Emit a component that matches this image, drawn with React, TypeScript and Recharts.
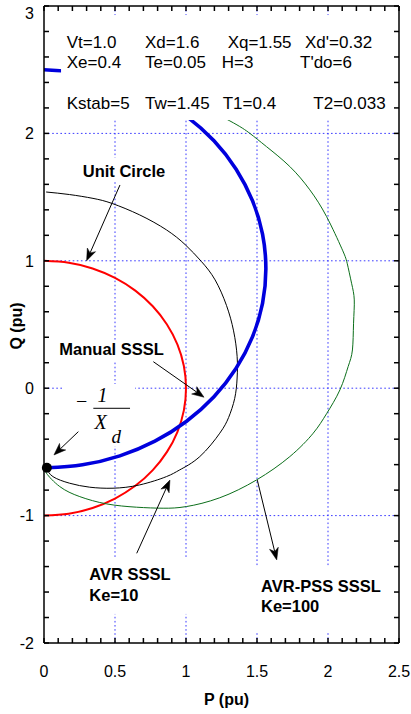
import React from 'react';
import {
  LineChart,
  Line,
  XAxis,
  YAxis,
  ReferenceLine,
  ReferenceArea,
  ReferenceDot,
} from 'recharts';

// ---- axis ticks ----
const xTicks = [0, 0.1, 0.2, 0.3, 0.4, 0.5, 0.6, 0.7, 0.8, 0.9, 1, 1.1, 1.2, 1.3, 1.4, 1.5, 1.6, 1.7, 1.8, 1.9, 2, 2.1, 2.2, 2.3, 2.4, 2.5];
const xLabels = [0, 0.5, 1, 1.5, 2, 2.5];
const yTicks = [-2, -1.8, -1.6, -1.4, -1.2, -1, -0.8, -0.6, -0.4, -0.2, 0, 0.2, 0.4, 0.6, 0.8, 1, 1.2, 1.4, 1.6, 1.8, 2, 2.2, 2.4, 2.6, 2.8, 3];
const yLabels = [-2, -1, 0, 1, 2, 3];
const gridP = [0.5, 1, 1.5, 2];
const gridQ = [-1, 0, 1, 2];

// ---- curves (P, Q in pu) ----
const unitCircle = [
  { p: 0, q: 1 }, { p: 0.174, q: 0.985 }, { p: 0.342, q: 0.94 }, { p: 0.5, q: 0.866 },
  { p: 0.643, q: 0.766 }, { p: 0.766, q: 0.643 }, { p: 0.866, q: 0.5 }, { p: 0.94, q: 0.342 },
  { p: 0.985, q: 0.174 }, { p: 1, q: 0 }, { p: 0.985, q: -0.174 }, { p: 0.94, q: -0.342 },
  { p: 0.866, q: -0.5 }, { p: 0.766, q: -0.643 }, { p: 0.643, q: -0.766 }, { p: 0.5, q: -0.866 },
  { p: 0.342, q: -0.94 }, { p: 0.174, q: -0.985 }, { p: 0, q: -1 },
];

const manualSSSL = [
  { p: 0.02, q: -0.625 }, { p: 0.271, q: -0.601 }, { p: 0.534, q: -0.531 }, { p: 0.781, q: -0.416 },
  { p: 1.004, q: -0.259 }, { p: 1.197, q: -0.067 }, { p: 1.353, q: 0.156 }, { p: 1.468, q: 0.403 },
  { p: 1.539, q: 0.666 }, { p: 1.5625, q: 0.9375 }, { p: 1.539, q: 1.209 }, { p: 1.468, q: 1.472 },
  { p: 1.353, q: 1.719 }, { p: 1.197, q: 1.942 }, { p: 1.004, q: 2.134 }, { p: 0.781, q: 2.291 },
  { p: 0.534, q: 2.406 }, { p: 0.271, q: 2.476 }, { p: 0, q: 2.5 },
];

const avrSSSL = [
  { p: 0.015, q: 1.54 }, { p: 0.18, q: 1.52 }, { p: 0.345, q: 1.49 }, { p: 0.48, q: 1.45 },
  { p: 0.674, q: 1.36 }, { p: 0.862, q: 1.243 }, { p: 0.996, q: 1.125 }, { p: 1.109, q: 0.994 },
  { p: 1.205, q: 0.85 }, { p: 1.285, q: 0.65 }, { p: 1.335, q: 0.45 }, { p: 1.36, q: 0.25 },
  { p: 1.36, q: 0.08 }, { p: 1.343, q: -0.08 }, { p: 1.3, q: -0.23 }, { p: 1.238, q: -0.353 },
  { p: 1.097, q: -0.537 }, { p: 0.956, q: -0.641 }, { p: 0.862, q: -0.694 }, { p: 0.674, q: -0.759 },
  { p: 0.486, q: -0.785 }, { p: 0.322, q: -0.777 }, { p: 0.181, q: -0.746 }, { p: 0.063, q: -0.694 },
  { p: 0.02, q: -0.63 },
];

const avrPssSSSL = [
  { p: 0, q: 2.5 }, { p: 0.12, q: 2.497 }, { p: 0.4, q: 2.47 }, { p: 0.7, q: 2.4 },
  { p: 1.0, q: 2.27 }, { p: 1.309, q: 2.098 }, { p: 1.45, q: 2.0 }, { p: 1.567, q: 1.896 },
  { p: 1.731, q: 1.74 }, { p: 1.872, q: 1.557 }, { p: 1.99, q: 1.347 }, { p: 2.096, q: 1.099 },
  { p: 2.135, q: 0.981 }, { p: 2.166, q: 0.824 }, { p: 2.185, q: 0.693 }, { p: 2.18, q: 0.51 },
  { p: 2.172, q: 0.3 }, { p: 2.142, q: 0.17 }, { p: 2.084, q: -0.013 }, { p: 1.99, q: -0.2 },
  { p: 1.896, q: -0.353 }, { p: 1.731, q: -0.537 }, { p: 1.497, q: -0.72 }, { p: 1.238, q: -0.86 },
  { p: 1.003, q: -0.929 }, { p: 0.839, q: -0.942 }, { p: 0.651, q: -0.934 }, { p: 0.44, q: -0.908 },
  { p: 0.252, q: -0.851 }, { p: 0.111, q: -0.772 }, { p: 0.017, q: -0.667 }, { p: 0.02, q: -0.64 },
];

// ---- machine / controller parameters ----
const paramRows = [
  ['Vt=1.0', 'Xd=1.6', 'Xq=1.55', "Xd'=0.32"],
  ['Xe=0.4', 'Te=0.05', 'H=3', "T'do=6"],
  ['Kstab=5', 'Tw=1.45', 'T1=0.4', 'T2=0.033'],
];

const SANS = '"Liberation Sans", Arial, Helvetica, sans-serif';
const SERIF = '"Liberation Serif", "Times New Roman", Times, serif';
const GRID = '#3a3aff';
const FRAME = '#000';

const inList = (v: number, list: number[]) => list.some((t) => Math.abs(t - v) < 1e-9);

// tick labels only on the major values; the short inward tick marks come from tickLine
const BottomTick = (props: any) => {
  const { x, y, payload } = props;
  const v = payload.value as number;
  if (!inList(v, xLabels)) return <g />;
  return (
    <text x={x} y={y} textAnchor="middle" fontSize={16} fontFamily={SANS} fill="#000">
      {String(v)}
    </text>
  );
};

const LeftTick = (props: any) => {
  const { x, y, payload } = props;
  const v = payload.value as number;
  if (!inList(v, yLabels)) return <g />;
  const ly = Math.max(y, 12.7);
  return (
    <text x={x} y={ly + 5.8} textAnchor="end" fontSize={16} fontFamily={SANS} fill="#000">
      {String(v)}
    </text>
  );
};

// top and right frame edges carry tick marks but no labels
const NoLabel = () => <g />;

// straight arrow with a barbed head at the end point
const Arrow = (props: any) => {
  const { x1, y1, x2, y2 } = props;
  const dx = x2 - x1;
  const dy = y2 - y1;
  const len = Math.sqrt(dx * dx + dy * dy) || 1;
  const ux = dx / len;
  const uy = dy / len;
  const L = 12;
  const W = 4.5;
  const bx = x2 - ux * L;
  const by = y2 - uy * L;
  const nx = x2 - ux * L * 0.72;
  const ny = y2 - uy * L * 0.72;
  const head = `M${x2},${y2} L${bx - uy * W},${by + ux * W} L${nx},${ny} L${bx + uy * W},${by - ux * W} Z`;
  return (
    <g>
      <line x1={x1} y1={y1} x2={nx} y2={ny} stroke="#000" strokeWidth={1} />
      <path d={head} fill="#000" stroke="#000" strokeWidth={0.5} />
    </g>
  );
};

const ParamBox = (props: any) => {
  const { x, y, width, height } = props;
  const colX = [
    [5.7, 84, 166.7, 244],
    [5.7, 84, 160.7, 239],
    [5.7, 84, 161.7, 252.3],
  ];
  const rowY = [33.3, 53.3, 94.3];
  return (
    <g>
      <rect x={x} y={y} width={width} height={height} fill="#fff" />
      {paramRows.map((row, i) =>
        row.map((s, j) => (
          <text key={`${i}-${j}`} x={x + colX[i][j]} y={y + rowY[i]} fontSize={17} fontFamily={SANS} fill="#000">
            {s}
          </text>
        ))
      )}
    </g>
  );
};

const labelBox = (lines: string[], dx: number, baselines: number[]) => (props: any) => {
  const { x, y, width, height } = props;
  return (
    <g>
      <rect x={x} y={y} width={width} height={height} fill="#fff" />
      {lines.map((s, i) => (
        <text key={i} x={x + dx} y={y + baselines[i]} fontSize={16.5} fontWeight="bold" fontFamily={SANS} fill="#000">
          {s}
        </text>
      ))}
    </g>
  );
};

const FractionBox = (props: any) => {
  const { x, y, width, height } = props;
  return (
    <g fontFamily={SERIF} fill="#000">
      <rect x={x} y={y} width={width} height={height} fill="#fff" />
      <text x={x + 18.7} y={y + 24} textAnchor="middle" fontSize={20}>
        −
      </text>
      <text x={x + 39.5} y={y + 17.7} textAnchor="middle" fontSize={20} fontStyle="italic">
        1
      </text>
      <line x1={x + 30.3} y1={y + 24.3} x2={x + 67} y2={y + 24.3} stroke="#000" strokeWidth={1} />
      <text x={x + 31.5} y={y + 45.3} fontSize={20} fontStyle="italic">
        X
      </text>
      <text x={x + 48.5} y={y + 59.3} fontSize={19} fontStyle="italic">
        d
      </text>
    </g>
  );
};

const YTitle = (props: any) => {
  const vb = props.viewBox || { x: 0, y: 6, width: 44, height: 637 };
  const cx = vb.x + 16.7;
  const cy = vb.y + vb.height / 2 + 1.5;
  return (
    <text
      x={cx}
      y={cy}
      transform={`rotate(-90 ${cx} ${cy})`}
      textAnchor="middle"
      dominantBaseline="central"
      fontSize={16}
      fontWeight="bold"
      fontFamily={SANS}
      fill="#000"
    >
      Q (pu)
    </text>
  );
};

const XTitle = (props: any) => {
  const vb = props.viewBox || { x: 44, y: 643, width: 355, height: 70 };
  return (
    <text
      x={vb.x + vb.width / 2 + 5}
      y={vb.y + 62}
      textAnchor="middle"
      fontSize={16}
      fontWeight="bold"
      fontFamily={SANS}
      fill="#000"
    >
      P (pu)
    </text>
  );
};

const ax = { xAxisId: 'b', yAxisId: 'l' } as const;
const tickStroke = { stroke: FRAME, strokeWidth: 1.5 };
const frameLine = { stroke: FRAME, strokeWidth: 1.5 };

export default function App() {
  return (
    <div style={{ position: 'absolute', left: 0, top: 0, width: 411, height: 714, background: '#fff' }}>
      <LineChart width={411} height={714} margin={{ top: 5, right: 11, bottom: 1, left: 0 }}>
        <XAxis
          xAxisId="b"
          type="number"
          dataKey="p"
          domain={[0, 2.5]}
          ticks={xTicks}
          interval={0}
          allowDataOverflow
          tickLine={tickStroke}
          tickSize={-5}
          tickMargin={38.5}
          tick={<BottomTick />}
          height={70}
          axisLine={frameLine}
          label={{ content: <XTitle /> }}
        />
        <XAxis
          xAxisId="t"
          orientation="top"
          type="number"
          dataKey="p"
          domain={[0, 2.5]}
          ticks={xTicks}
          interval={0}
          allowDataOverflow
          tickLine={tickStroke}
          tickSize={-5}
          tick={<NoLabel />}
          height={1}
          axisLine={frameLine}
        />
        <YAxis
          yAxisId="l"
          type="number"
          domain={[-2, 3]}
          ticks={yTicks}
          interval={0}
          allowDataOverflow
          tickLine={tickStroke}
          tickSize={-5}
          tickMargin={15}
          tick={<LeftTick />}
          width={44}
          axisLine={frameLine}
          label={{ content: <YTitle /> }}
        />
        <YAxis
          yAxisId="r"
          orientation="right"
          type="number"
          domain={[-2, 3]}
          ticks={yTicks}
          interval={0}
          allowDataOverflow
          tickLine={tickStroke}
          tickSize={-5}
          tick={<NoLabel />}
          width={1}
          axisLine={frameLine}
        />

        {gridP.map((v) => (
          <ReferenceLine key={`gp${v}`} {...ax} x={v} stroke={GRID} strokeWidth={1} strokeDasharray="1.6 2.5" />
        ))}
        {gridQ.map((v) => (
          <ReferenceLine key={`gq${v}`} {...ax} y={v} stroke={GRID} strokeWidth={1} strokeDasharray="1.6 2.5" />
        ))}

        <Line {...ax} data={unitCircle} dataKey="q" type="natural" stroke="#ff0000" strokeWidth={2} dot={false} activeDot={false} isAnimationActive={false} />
        <Line {...ax} data={avrSSSL} dataKey="q" type="natural" stroke="#000" strokeWidth={1} dot={false} activeDot={false} isAnimationActive={false} />
        <Line {...ax} data={avrPssSSSL} dataKey="q" type="natural" stroke="#0b6e1a" strokeWidth={1} dot={false} activeDot={false} isAnimationActive={false} />
        <Line {...ax} data={manualSSSL} dataKey="q" type="natural" stroke="#0000dd" strokeWidth={3.6} dot={false} activeDot={false} isAnimationActive={false} />

        <ReferenceArea {...ax} x1={0.12} x2={2.465} y1={2.929} y2={2.105} shape={<ParamBox />} zIndex={450} />
        <ReferenceArea {...ax} x1={0.254} x2={0.887} y1={1.807} y2={1.626} shape={labelBox(['Unit Circle'], 2.7, [18.7])} zIndex={450} />
        <ReferenceArea {...ax} x1={0.085} x2={0.873} y1={0.3705} y2={0.2057} shape={labelBox(['Manual SSSL'], 3.3, [14])} zIndex={450} />
        <ReferenceArea {...ax} x1={0.134} x2={0.641} y1={0.033} y2={-0.454} shape={<FractionBox />} zIndex={450} />
        <ReferenceArea {...ax} x1={0.268} x2={1.042} y1={-1.325} y2={-1.772} shape={labelBox(['AVR SSSL', 'Ke=10'], 7.3, [23, 43.7])} zIndex={450} />
        <ReferenceArea {...ax} x1={1.451} x2={2.451} y1={-1.396} y2={-1.914} shape={labelBox(['AVR-PSS SSSL', 'Ke=100'], 11, [25.7, 46.3])} zIndex={450} />

        <ReferenceLine {...ax} segment={[{ x: 0.535, y: 1.595 }, { x: 0.3, y: 1.0 }]} shape={<Arrow />} zIndex={460} />
        <ReferenceLine {...ax} segment={[{ x: 0.77, y: 0.208 }, { x: 1.127, y: -0.071 }]} shape={<Arrow />} zIndex={460} />
        <ReferenceLine {...ax} segment={[{ x: 0.242, y: -0.341 }, { x: 0.07, y: -0.524 }]} shape={<Arrow />} zIndex={460} />
        <ReferenceLine {...ax} segment={[{ x: 0.653, y: -1.296 }, { x: 0.887, y: -0.721 }]} shape={<Arrow />} zIndex={460} />
        <ReferenceLine {...ax} segment={[{ x: 1.502, y: -0.721 }, { x: 1.639, y: -1.348 }]} shape={<Arrow />} zIndex={460} />

        <ReferenceDot {...ax} x={0.02} y={-0.625} r={5} fill="#000" stroke="none" zIndex={470} />
      </LineChart>
    </div>
  );
}
